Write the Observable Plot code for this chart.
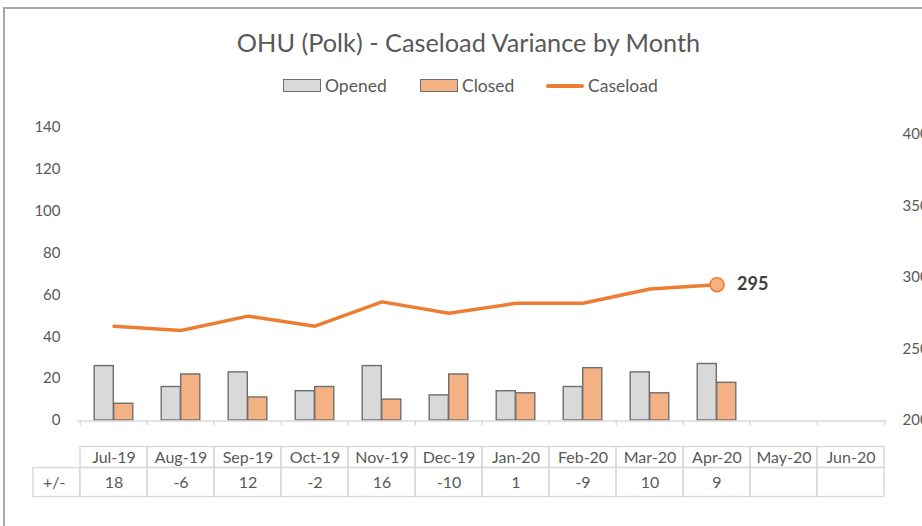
<!DOCTYPE html>
<html>
<head>
<meta charset="utf-8">
<script src="https://cdn.jsdelivr.net/npm/d3@7"></script>
<script src="https://cdn.jsdelivr.net/npm/@observablehq/plot@0.6"></script>
<style>
  html, body { margin: 0; padding: 0; background: #fff; }
  #wrap { position: relative; width: 922px; height: 526px; overflow: hidden; background: #fff; font-family: Lato, "Open Sans", sans-serif; color: #595959; }
  #frame { position: absolute; left: 3px; top: 7px; width: 1000px; height: 600px; border-top: 2px solid #a6a6a6; border-left: 2px solid #a6a6a6; }
  #title { position: absolute; left: 0; top: 30px; width: 937px; text-align: center; font-size: 25.3px; line-height: 25px; white-space: nowrap; }
  .lg { position: absolute; font-size: 17.5px; line-height: 17px; top: 77px; white-space: nowrap; }
  .sw { position: absolute; top: 79px; width: 38px; height: 13px; box-sizing: border-box; border: 1.3px solid #6e6e6e; }
  #chart, #table { position: absolute; left: 0; }
  #chart { top: 0; }
  #table { top: 420px; }
</style>
</head>
<body>
<div id="wrap">
  <div id="frame"></div>
  <div id="title"></div>
  <div class="sw" style="left:283px; background:#d9d9d9"></div>
  <div class="lg" id="lg0" style="left:325px"></div>
  <div class="sw" style="left:420px; background:#f4b183"></div>
  <div class="lg" id="lg1" style="left:462px"></div>
  <div style="position:absolute; left:546px; top:84px; width:38px; height:4px; background:#ed7d31; border-radius:2px"></div>
  <div class="lg" id="lg2" style="left:588px"></div>
  <div id="chart"></div>
  <div id="table"></div>
</div>
<script>
// ---- data ----
const title = "OHU (Polk) - Caseload Variance by Month";
const seriesNames = ["Opened", "Closed", "Caseload"];
const months = ["Jul-19","Aug-19","Sep-19","Oct-19","Nov-19","Dec-19","Jan-20","Feb-20","Mar-20","Apr-20","May-20","Jun-20"];
const opened = [26, 16, 23, 14, 26, 12, 14, 16, 23, 27, null, null];
const closed = [8, 22, 11, 16, 10, 22, 13, 25, 13, 18, null, null];
const caseload = [266, 263, 273, 266, 283, 275, 282, 282, 292, 295, null, null];
const variance = [18, -6, 12, -2, 16, -10, 1, -9, 10, 9, null, null];
const rowLabel = "+/-";
const leftTicks = [0, 20, 40, 60, 80, 100, 120, 140];
const rightTicks = [200, 250, 300, 350, 400];

document.getElementById("title").textContent = title;
document.getElementById("lg0").textContent = seriesNames[0];
document.getElementById("lg1").textContent = seriesNames[1];
document.getElementById("lg2").textContent = seriesNames[2];

// ---- layout ----
const W = 922, ML = 77, MR = 36;
const bw = (W - ML - MR) / months.length;
const barW = 19.5, barPad = bw / 2 - barW;
// secondary axis: 200 sits on the baseline, 400 at ~136.6 primary units
const k = 136.6 / 200;
const toLeft = v => (v - 200) * k;
const fromLeft = v => v / k + 200;

const rows = months.map((m, i) => ({month: m, opened: opened[i], closed: closed[i], caseload: caseload[i], variance: variance[i]}));
const lineRows = rows.filter(d => d.caseload != null);
const last = lineRows[lineRows.length - 1];

const gridColor = "#d9d9d9";
const barStroke = "#6e6e6e";

const chart = Plot.plot({
  width: W, height: 446,
  marginTop: 127, marginBottom: 26, marginLeft: ML, marginRight: MR,
  style: {background: "transparent", fontFamily: "Lato, 'Open Sans', sans-serif", fontSize: "15px", color: "#595959", overflow: "visible"},
  x: {type: "band", domain: months, padding: 0, axis: null},
  y: {domain: [0, 140], axis: null},
  marks: [
    Plot.axisY({ticks: leftTicks, anchor: "left", tickSize: 0, tickPadding: 17, fontSize: 15, label: null}),
    Plot.axisY({ticks: rightTicks.map(toLeft), anchor: "right", tickSize: 0, tickPadding: 16, fontSize: 15, label: null,
      tickFormat: d => String(Math.round(fromLeft(d)))}),
    Plot.barY(rows, {x: "month", y: "opened", fill: "#d9d9d9", stroke: barStroke, strokeWidth: 1.4,
      insetLeft: barPad, insetRight: bw / 2}),
    Plot.barY(rows, {x: "month", y: "closed", fill: "#f4b183", stroke: barStroke, strokeWidth: 1.4,
      insetLeft: bw / 2, insetRight: barPad}),
    Plot.lineY(lineRows, {x: "month", y: d => toLeft(d.caseload), stroke: "#ed7d31", strokeWidth: 3.5,
      strokeLinejoin: "round", strokeLinecap: "round"}),
    Plot.dot([last], {x: "month", y: d => toLeft(d.caseload), r: 7, fill: "#f4b183", stroke: "#ed7d31", strokeWidth: 1.5}),
    Plot.text([last], {x: "month", y: d => toLeft(d.caseload), text: d => String(d.caseload), dx: 20,
      textAnchor: "start", fontWeight: "bold", fontSize: 18, fill: "#404040"})
  ]
});
document.getElementById("chart").append(chart);

// data table under the chart (y in pixels of this svg)
const hTop = 26.5, hMid = 47.5, hBot = 76.5;
const table = Plot.plot({
  width: W, height: 106,
  marginTop: 0, marginBottom: 0, marginLeft: ML, marginRight: MR,
  style: {background: "transparent", fontFamily: "Lato, 'Open Sans', sans-serif", fontSize: "16px", color: "#595959", overflow: "visible"},
  x: {type: "band", domain: months, padding: 0, axis: null},
  y: {type: "identity", axis: null},
  marks: [
    Plot.ruleY([0.5], {stroke: gridColor, strokeWidth: 1.4}),
    Plot.ruleX(months, {x: d => d, y1: 0, y2: 5, dx: -bw / 2, stroke: gridColor, strokeWidth: 1.4}),
    Plot.ruleX([months[months.length - 1]], {x: d => d, y1: 0, y2: 5, dx: bw / 2, stroke: gridColor, strokeWidth: 1.4}),
    Plot.barY(months, {x: d => d, y1: hTop, y2: hMid, fill: "none", stroke: gridColor, strokeWidth: 1.4}),
    Plot.barY(months, {x: d => d, y1: hMid, y2: hBot, fill: "none", stroke: gridColor, strokeWidth: 1.4}),
    Plot.barY([rowLabel], {x: () => months[0], y1: hMid, y2: hBot, insetLeft: -47, insetRight: bw, fill: "none", stroke: gridColor, strokeWidth: 1.4}),
    Plot.text(months, {x: d => d, y: (hTop + hMid) / 2, text: d => d, fill: "#595959", fontSize: 16}),
    Plot.text(rows.filter(d => d.variance != null), {x: "month", y: (hMid + hBot) / 2, text: d => String(d.variance), fill: "#595959", fontSize: 16}),
    Plot.text([rowLabel], {frameAnchor: "left", y: (hMid + hBot) / 2, dx: -12, textAnchor: "end", text: d => d, fill: "#595959", fontSize: 16})
  ]
});
document.getElementById("table").append(table);
</script>
</body>
</html>
